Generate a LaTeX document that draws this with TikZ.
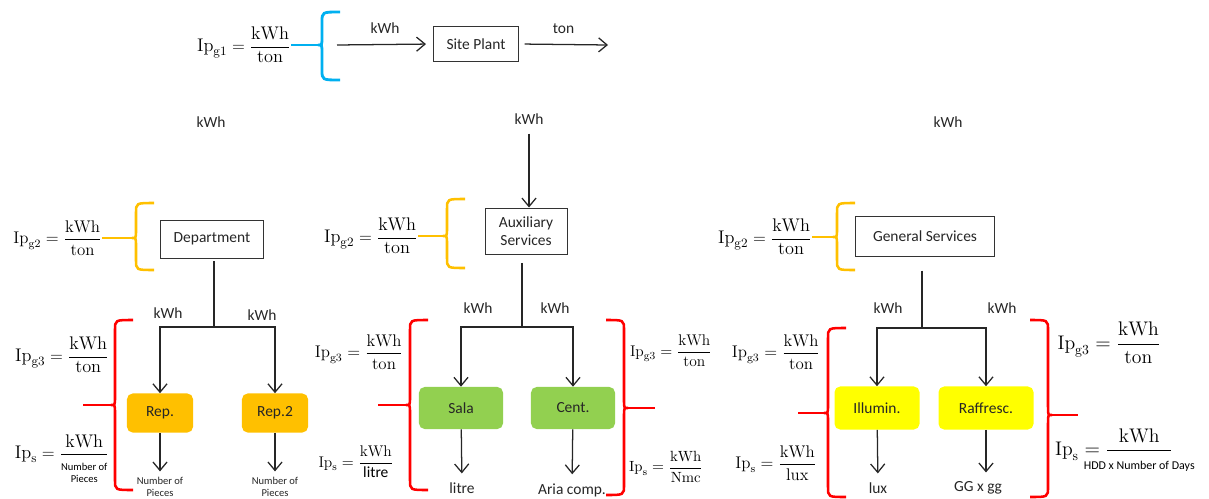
\documentclass[tikz,border=0pt]{standalone}
\usepackage{fontspec}
\newfontfamily\labelfont{Carlito}
\usetikzlibrary{arrows.meta}

\definecolor{bracecyan}{RGB}{0,176,240}
\definecolor{braceorange}{RGB}{255,192,0}
\definecolor{bracered}{RGB}{255,0,0}
\definecolor{taskorange}{RGB}{255,192,0}
\definecolor{taskgreen}{RGB}{146,208,80}
\definecolor{taskyellow}{RGB}{255,255,0}

% Ip formula: subscript, numerator, denominator
\newcommand{\ipfrac}[3]{$\displaystyle\mathrm{Ip}_{\mathrm{#1}}=\frac{\mathrm{#2}}{#3}$}
% curly brackets: style, tip name, x, top, middle, bottom
\newcommand{\leftcurl}[6]{%
	\coordinate (#2) at (#3-4,#5);
	\draw[#1] (#3+18,#4) .. controls (#3,#4) .. (#3,#4+10) -- (#3,#5-8)
		.. controls (#3,#5) .. (#2) .. controls (#3,#5) .. (#3,#5+8)
		-- (#3,#6-10) .. controls (#3,#6) .. (#3+18,#6);}
\newcommand{\rightcurl}[6]{%
	\coordinate (#2) at (#3+4,#5);
	\draw[#1] (#3-18,#4) .. controls (#3,#4) .. (#3,#4+10) -- (#3,#5-8)
		.. controls (#3,#5) .. (#2) .. controls (#3,#5) .. (#3,#5+8)
		-- (#3,#6-10) .. controls (#3,#6) .. (#3-18,#6);}

\begin{document}
\begin{tikzpicture}[x=0.025cm,y=-0.025cm,
		unit/.style={font=\labelfont\fontsize{11}{13}\selectfont,text=black!85},
		block/.style={unit,draw=black!80,line width=0.7pt,minimum height=0.95cm,align=center,inner sep=2pt},
		task/.style={unit,rounded corners=4pt,minimum height=1cm,align=center},
		small/.style={font=\labelfont\fontsize{7.5}{8.5}\selectfont,text=black!85,align=center,inner sep=1pt},
		fml/.style={inner sep=0pt,text=black,font=\fontsize{#1}{#1}\selectfont},
		arr/.style={-{Straight Barb[length=6pt,width=10pt]},line width=0.9pt,black!85},
		outarr/.style={arr,shorten >=3pt},
		wire/.style={line width=0.9pt,black!85},
		bluebr/.style={line width=2pt,bracecyan},
		orangebr/.style={line width=1.8pt,braceorange},
		redbr/.style={line width=1.8pt,bracered}]
	\useasboundingbox (0,0) rectangle (1209,499);

	% site level
	\node[fml=13,anchor=east] (ipg1) at (291,45) {\ipfrac{g1}{kWh}{\mathrm{ton}}};
	\leftcurl{bluebr}{g1tip}{322}{12}{45}{80}
	\draw[bluebr] (ipg1.east) -- (g1tip);
	\node[block,minimum width=2.125cm,minimum height=0.875cm] (site) at (476,44) {Site Plant};
	\coordinate (sitein) at (337,45);
	\coordinate (siteout) at (608,45);
	\draw[arr,shorten >=5pt] (sitein) -- node[unit,above=4pt] (kwsite) {kWh} (site.west);
	\draw[arr,shorten <=4pt] (site.east) -- node[unit,above=4pt] (tonsite) {ton} (siteout);

	\node[unit] (kwdep) at (211,122) {kWh};
	\node[unit] (kwaux) at (529,119) {kWh};
	\node[unit] (kwgen) at (948,122) {kWh};

	% department
	\node[fml=12,anchor=east] (depg2) at (102,238) {\ipfrac{g2}{kWh}{\mathrm{ton}}};
	\leftcurl{orangebr}{deptip}{136}{203}{238}{270}
	\draw[orangebr] (depg2.east) -- (deptip);
	\node[block,minimum width=2.575cm] (dep) at (212,239) {Department};
	\coordinate (depj) at (214,327);
	\draw[wire,shorten <=2pt] (dep.south -| depj) -- (depj);
	\node[task,fill=taskorange,minimum width=1.65cm,minimum height=0.975cm] (rep1) at (160,413) {Rep.};
	\node[task,fill=taskorange,minimum width=1.65cm,minimum height=0.975cm] (rep2) at (275,413) {Rep.2};
	\draw[arr] (depj) -| (rep1.north);
	\draw[arr] (depj) -| (rep2.north);
	\node[unit] (kwrep1) at (168,313) {kWh};
	\node[unit] (kwrep2) at (262,315) {kWh};
	\node[small] (pcs1) at (160,487) {Number of\\Pieces};
	\node[small] (pcs2) at (275,487) {Number of\\Pieces};
	\draw[outarr] (rep1) -- (pcs1);
	\draw[outarr] (rep2) -- (pcs2);
	\leftcurl{redbr}{reptip}{115}{320}{405}{490}
	\coordinate (repin) at (83,405);
	\draw[redbr] (repin) -- (reptip);
	\node[fml=13] (repg3) at (62,355) {\ipfrac{g3}{kWh}{\mathrm{ton}}};
	\node[fml=13] (reps) at (62,460) {\ipfrac{s}{kWh}{\hbox{\labelfont\fontsize{7.5}{8.5}\selectfont\begin{tabular}[t]{@{}c@{}}Number of\\Pieces\end{tabular}}}};

	% auxiliary services
	\node[fml=13,anchor=east] (auxg2) at (418,236) {\ipfrac{g2}{kWh}{\mathrm{ton}}};
	\leftcurl{orangebr}{auxtip}{447}{199}{236}{268}
	\draw[orangebr] (auxg2.east) -- (auxtip);
	\node[block,minimum width=2.05cm,minimum height=1.15cm] (aux) at (526,231) {Auxiliary\\Services};
	\draw[arr,shorten <=3pt] (kwaux) -- (kwaux |- aux.north);
	\coordinate (auxj) at (522,327);
	\draw[wire,shorten <=6pt] (aux.south -| auxj) -- (auxj);
	\node[task,fill=taskgreen,minimum width=2.1cm,minimum height=1.05cm] (sala) at (461,408) {Sala};
	\node[task,fill=taskgreen,minimum width=2.1cm,minimum height=1.05cm] (cent) at (573,408) {Cent.};
	\draw[arr] (auxj) -| (sala.north);
	\draw[arr] (auxj) -| (cent.north);
	\node[unit] (kwsala) at (478,308) {kWh};
	\node[unit] (kwcent) at (555,308) {kWh};
	\node[unit] (litre) at (462,488) {litre};
	\node[unit] (aria) at (572,490) {Aria comp.};
	\draw[outarr] (sala) -- (litre);
	\draw[outarr] (cent) -- (aria);
	\leftcurl{redbr}{salatip}{410}{320}{405}{490}
	\coordinate (salain) at (378,405);
	\draw[redbr] (salain) -- (salatip);
	\rightcurl{redbr}{centtip}{624}{320}{408}{495}
	\coordinate (centout) at (655,408);
	\draw[redbr] (centtip) -- (centout);
	\node[fml=12] (salag3) at (359,352) {\ipfrac{g3}{kWh}{\mathrm{ton}}};
	\node[fml=11] (salas) at (356,462) {\ipfrac{s}{kWh}{\hbox{\labelfont litre}}};
	\node[fml=11] (centg3) at (671,351) {\ipfrac{g3}{kWh}{\mathrm{ton}}};
	\node[fml=10.5] (cents) at (666,467) {\ipfrac{s}{kWh}{\mathrm{Nmc}}};

	% general services
	\node[fml=13,anchor=east] (geng2) at (812,237) {\ipfrac{g2}{kWh}{\mathrm{ton}}};
	\leftcurl{orangebr}{gentip}{837}{203}{237}{270}
	\draw[orangebr] (geng2.east) -- (gentip);
	\node[block,minimum width=3.475cm,minimum height=1cm] (gen) at (925,236) {General Services};
	\coordinate (genj) at (922,328);
	\draw[wire,shorten <=10pt] (gen.south -| genj) -- (genj);
	\node[task,fill=taskyellow,minimum width=2.125cm,minimum height=1.075cm] (illum) at (877,408) {Illumin.};
	\node[task,fill=taskyellow,minimum width=2.375cm,minimum height=1.075cm] (raff) at (986,408) {Raffresc.};
	\draw[arr] (genj) -| (illum.north);
	\draw[arr] (genj) -| (raff.north);
	\node[unit] (kwillum) at (888,308) {kWh};
	\node[unit] (kwraff) at (1002,308) {kWh};
	\node[unit] (lux) at (878,488) {lux};
	\node[unit] (ggg) at (978,488) {GG x gg};
	\draw[outarr] (illum) -- (lux);
	\draw[outarr] (raff) -- (raff |- ggg.north);
	\leftcurl{redbr}{illtip}{828}{328}{413}{497}
	\coordinate (illin) at (798,413);
	\draw[redbr] (illin) -- (illtip);
	\rightcurl{redbr}{rafftip}{1048}{320}{415}{497}
	\coordinate (raffout) at (1078,415);
	\draw[redbr] (rafftip) -- (raffout);
	\node[fml=12] (illg3) at (776,352) {\ipfrac{g3}{kWh}{\mathrm{ton}}};
	\node[fml=12] (ills) at (776,463) {\ipfrac{s}{kWh}{\mathrm{lux}}};
	\node[fml=14] (raffg3) at (1109,343) {\ipfrac{g3}{kWh}{\mathrm{ton}}};
	\node[fml=14] (raffs) at (1114,450) {\ipfrac{s}{kWh}{\hbox{\makebox[1.6cm]{\labelfont\fontsize{8.5}{9}\selectfont HDD x Number of Days}}}};
\end{tikzpicture}
\end{document}
